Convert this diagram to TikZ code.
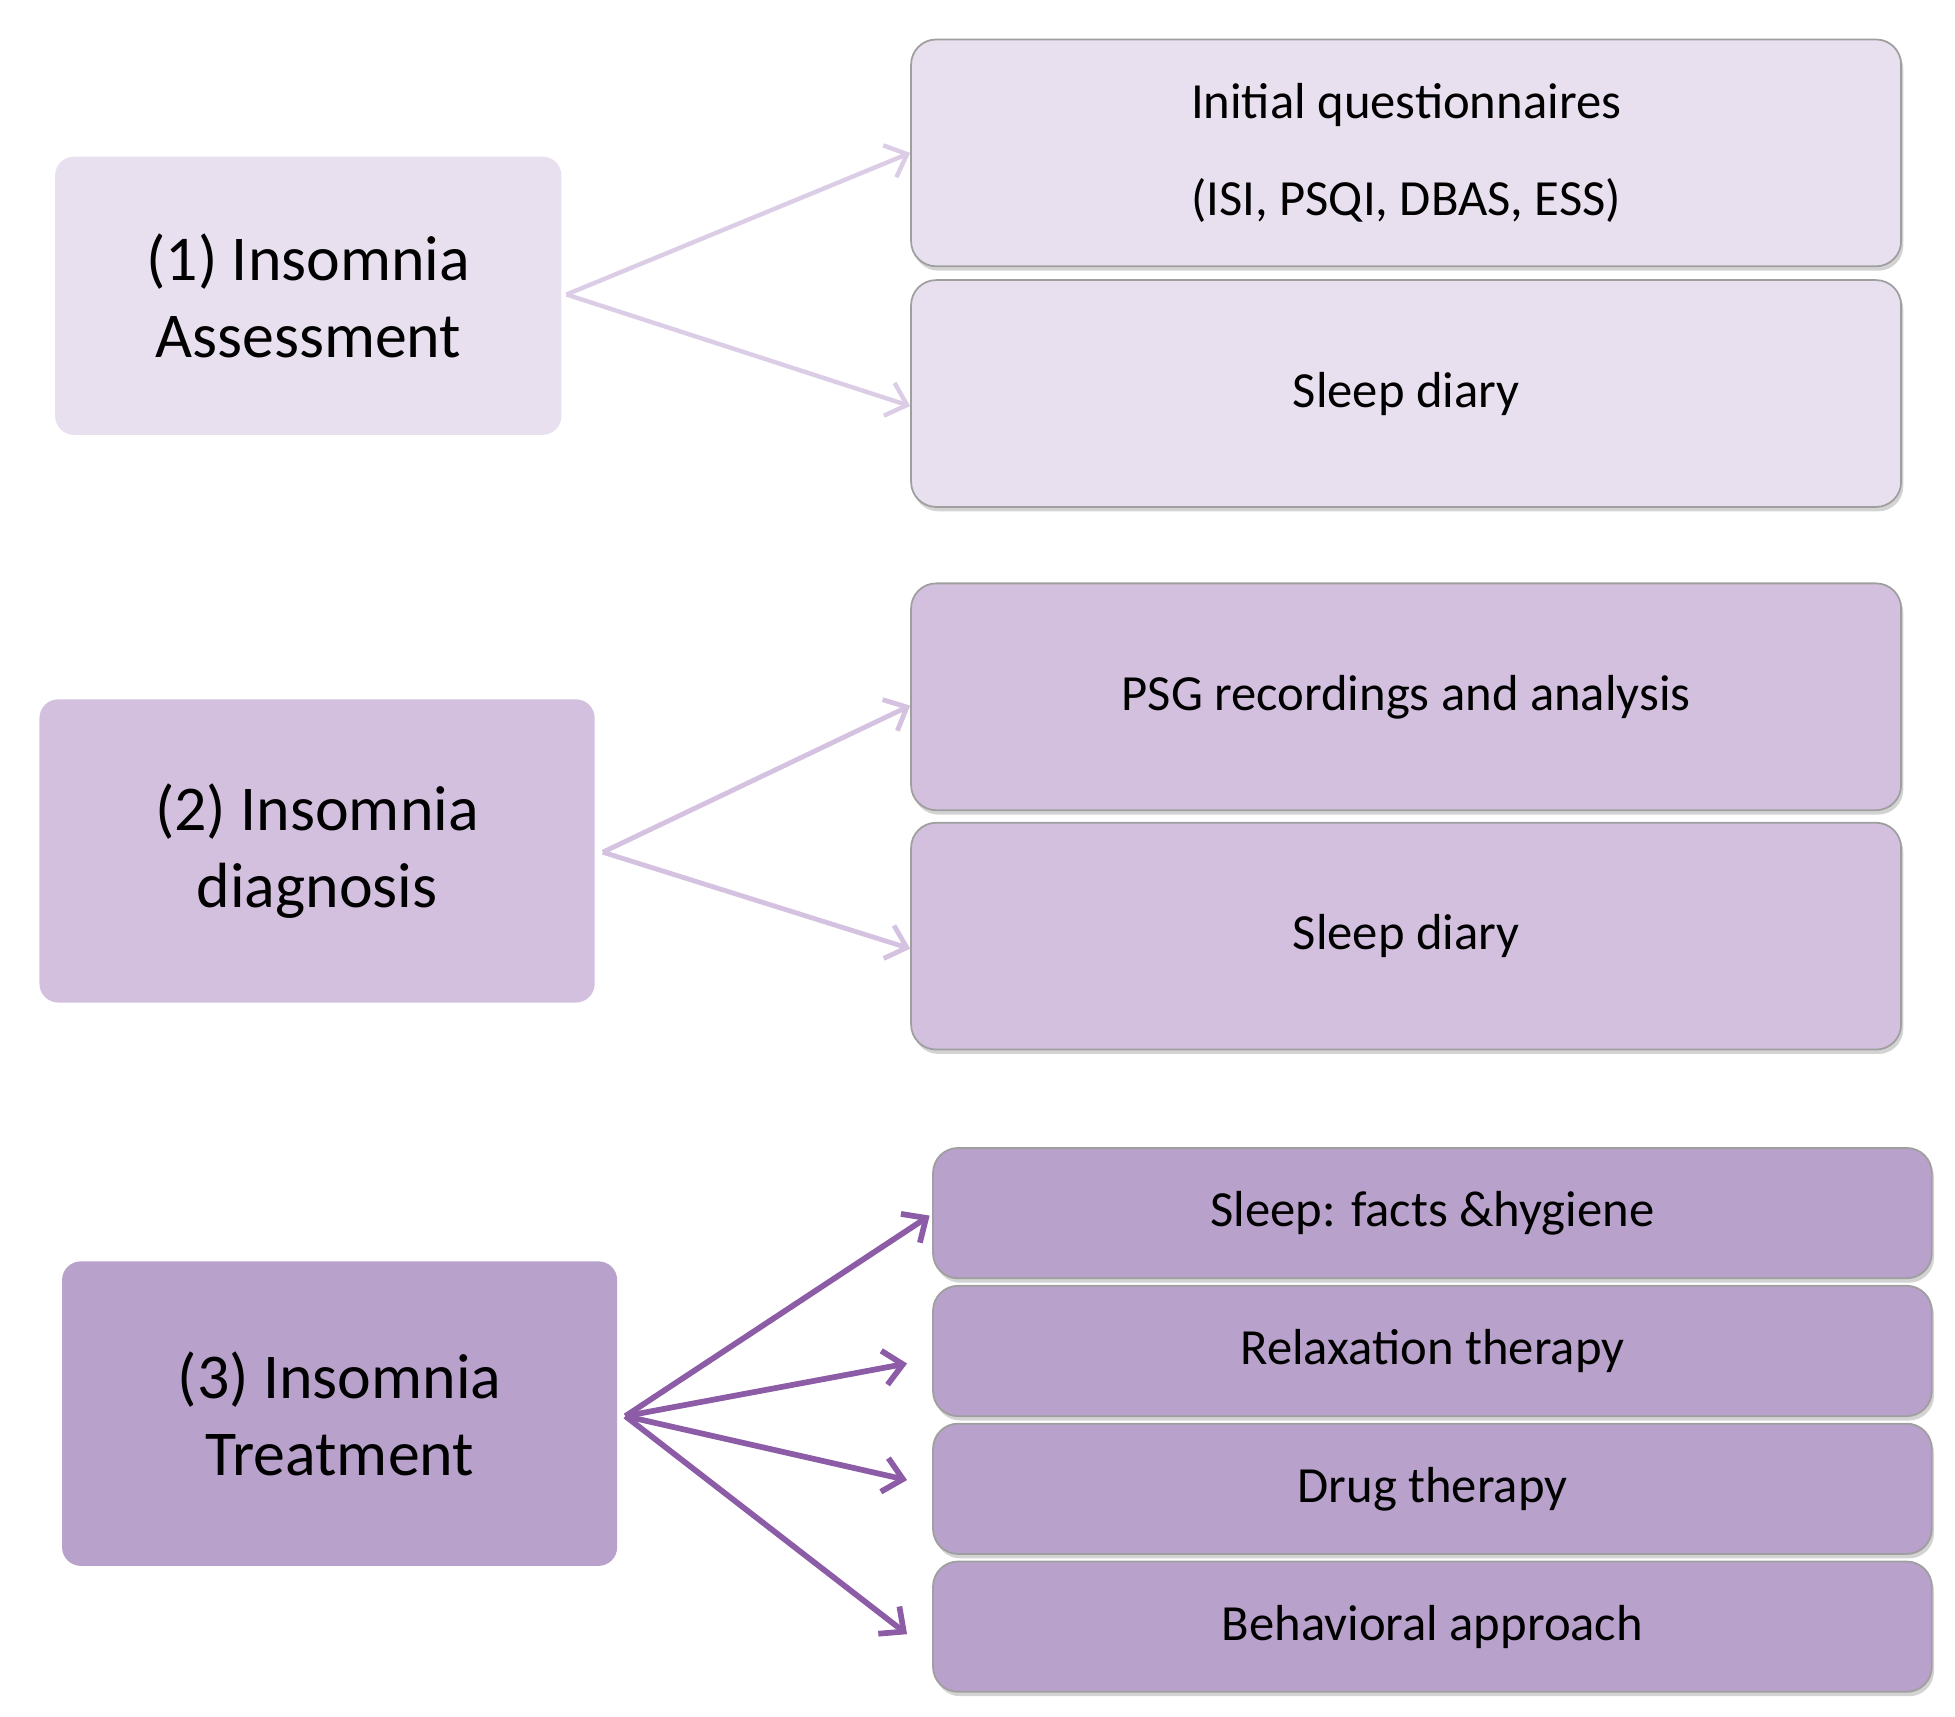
\documentclass[tikz,border=0pt]{standalone}
\usepackage{fontspec}
\setmainfont{Carlito}
\usetikzlibrary{arrows.meta,shadows}
\definecolor{c1}{HTML}{E8E0EE}
\definecolor{c2}{HTML}{D3C0DE}
\definecolor{c3}{HTML}{B8A1CA}
\definecolor{a1}{HTML}{DCCDE7}
\definecolor{a2}{HTML}{D4C2E0}
\definecolor{a3}{HTML}{8C5CA6}
\begin{document}
\begin{tikzpicture}[x=0.02cm,y=-0.02cm,
 lbox/.style={rounded corners=0.3cm,draw=none,inner sep=0pt,align=center,font=\fontsize{29}{35}\selectfont},
 rbox/.style={rounded corners=0.4cm,draw=gray!75,line width=0.8pt,inner sep=0pt,align=center,font=\fontsize{23}{44}\selectfont,drop shadow={shadow xshift=1pt,shadow yshift=-2pt,opacity=0.35}},
 arr/.style={line width=#1,-{Straight Barb[length=0.3cm,width=0.55cm,line width=#1]}}]
\useasboundingbox (0,0) rectangle (1560,1370);
% left
\node[lbox,fill=c1,minimum width=404*0.02cm,minimum height=222*0.02cm] (L1) at (246,236) {(1) Insomnia\\Assessment};
\node[lbox,fill=c2,minimum width=443*0.02cm,minimum height=242*0.02cm] (L2) at (253,679) {(2) Insomnia\\diagnosis};
\node[lbox,fill=c3,minimum width=443*0.02cm,minimum height=243*0.02cm] (L3) at (271,1128) {(3) Insomnia\\Treatment};
% right
\node[rbox,fill=c1,minimum width=790*0.02cm,minimum height=181*0.02cm] (A1) at (1122,122) {Initial questionnaires\\(ISI, PSQI, DBAS, ESS)};
\node[rbox,fill=c1,minimum width=790*0.02cm,minimum height=181*0.02cm] (A2) at (1122,314) {Sleep diary};
\node[rbox,fill=c2,minimum width=790*0.02cm,minimum height=181*0.02cm] (B1) at (1122,556) {PSG recordings and analysis};
\node[rbox,fill=c2,minimum width=790*0.02cm,minimum height=181*0.02cm] (B2) at (1122,747) {Sleep diary};
\node[rbox,fill=c3,minimum width=797*0.02cm,minimum height=104*0.02cm] (T1) at (1143,968) {Sleep: facts \&hygiene};
\node[rbox,fill=c3,minimum width=797*0.02cm,minimum height=104*0.02cm] (T2) at (1143,1078) {Relaxation therapy};
\node[rbox,fill=c3,minimum width=797*0.02cm,minimum height=104*0.02cm] (T3) at (1143,1188) {Drug therapy};
\node[rbox,fill=c3,minimum width=797*0.02cm,minimum height=104*0.02cm] (T4) at (1143,1298) {Behavioral approach};
% arrows
\coordinate (s1) at (452,235);
\coordinate (s2) at (481,680);
\coordinate (s3) at (499,1130);
\draw[arr=2pt,a1] (s1) -- (A1.west);
\draw[arr=2pt,a1] (s1) -- ([yshift=-10*0.02cm]A2.west);
\draw[arr=2.2pt,a2] (s2) -- ([yshift=-7*0.02cm]B1.west);
\draw[arr=2.2pt,a2] (s2) -- ([yshift=-10*0.02cm]B2.west);
\draw[arr=2.6pt,a3] (s3) -- ([xshift=-2*0.02cm,yshift=-2*0.02cm]T1.west);
\draw[arr=2.6pt,a3] (s3) -- ([xshift=-20*0.02cm,yshift=-10*0.02cm]T2.west);
\draw[arr=2.6pt,a3] (s3) -- ([xshift=-20*0.02cm,yshift=7*0.02cm]T3.west);
\draw[arr=2.6pt,a3] (s3) -- ([xshift=-20*0.02cm,yshift=-6*0.02cm]T4.west);
\end{tikzpicture}
\end{document}
